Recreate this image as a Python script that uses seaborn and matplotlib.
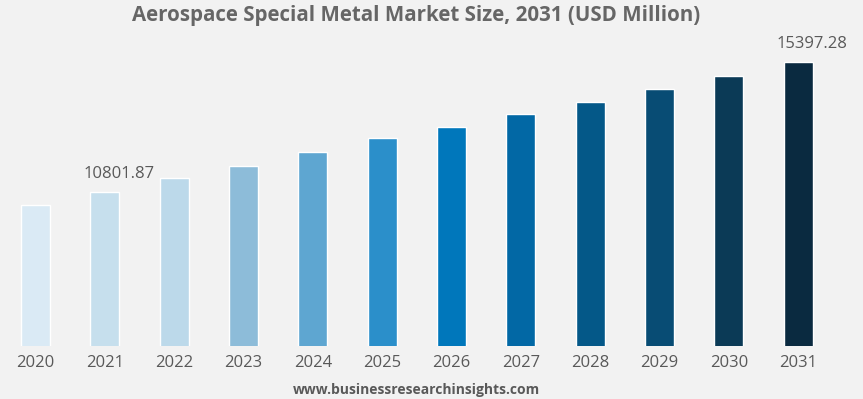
import matplotlib
matplotlib.use("Agg")
import matplotlib.pyplot as plt
import pandas as pd
import seaborn as sns

years = ["2020", "2021", "2022", "2023", "2024", "2025", "2026", "2027", "2028", "2029", "2030", "2031"]
market_size = [10347, 10801.87, 11300, 11723, 12206, 12700, 13109, 13547, 13991, 14449, 14897, 15397.28]
bar_colors = ["#daeaf5", "#c6dfed", "#bcd9ea", "#8dbcd9", "#5ea6d1", "#2b8fca",
              "#0077bb", "#0268a5", "#045888", "#084c74", "#0b3a56", "#0a2a40"]
labelled_years = ["2021", "2031"]

BG = "#f2f2f2"
GREY = "#595959"


def main() -> None:
    sns.set_style("white")
    plt.rcParams["font.family"] = ["Open Sans", "DejaVu Sans"]

    df = pd.DataFrame({"year": years, "size": market_size})

    fig = plt.figure(figsize=(8.63, 3.99), dpi=100, facecolor=BG)
    ax = fig.add_axes([0.001, 0.134, 0.964, 0.766], facecolor=BG)
    sns.barplot(data=df, x="year", y="size", hue="year", palette=bar_colors,
                width=0.42, legend=False, ax=ax, saturation=1)

    ax.set_ylim(5392, 16174)
    ax.set_xlim(-0.5, 11.5)
    for s in ax.spines.values():
        s.set_visible(False)
    ax.set_yticks([])
    ax.set_xlabel("")
    ax.set_ylabel("")
    ax.tick_params(axis="x", length=0, pad=7, labelsize=12, labelcolor=GREY)

    for i, (yr, val) in enumerate(zip(years, market_size)):
        if yr in labelled_years:
            ax.annotate(f"{val:.2f}", (i, val), xytext=(10, 7), textcoords="offset points",
                        ha="center", va="bottom", fontsize=12, color=GREY)

    fig.text(0.4826, 0.96, "Aerospace Special Metal Market Size, 2031 (USD Million)",
             ha="center", va="center", fontsize=14.8, fontweight="bold", color="#666666")
    fig.text(0.483, 0.023, "www.businessresearchinsights.com",
             ha="center", va="center", fontsize=10, fontweight="bold", color=GREY)

    fig.savefig("out.png", dpi=100, facecolor=BG)
    plt.close(fig)


if __name__ == "__main__":
    main()
